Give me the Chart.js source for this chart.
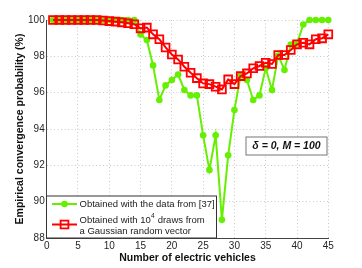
<!DOCTYPE html>
<html>
<head>
<meta charset="utf-8">
<script src="https://cdn.jsdelivr.net/npm/chart.js@4"></script>
<style>
  body { margin: 0; background: #fff; }
  canvas { display: block; }
</style>
</head>
<body>
<canvas id="myChart" width="362" height="268"></canvas>
<script>
// number of EVs on the x axis
const vehicles = [1,2,3,4,5,6,7,8,9,10,11,12,13,14,15,16,17,18,19,20,21,22,23,24,25,26,27,28,29,30,31,32,33,34,35,36,37,38,39,40,41,42,43,44,45];

// obtained with the data from [37]
const fromData = [100,100,100,100,100,100,100,100,100,100,100,100,100,100,
  99.2,98.9,97.5,95.6,96.4,96.7,97.0,96.15,95.85,95.85,93.65,91.75,93.65,89.0,92.55,95.05,
  96.95,96.7,95.6,95.85,97.35,96.15,98.05,97.25,98.65,98.7,99.75,100,100,100,100];

// obtained with 10^4 gaussian draws
const gaussianDraws = [100,100,100,100,100,100,100,100,99.97,99.94,99.91,99.87,99.82,99.77,
  99.54,99.58,99.21,98.94,98.49,98.1,97.83,97.43,97.1,96.8,96.51,96.47,96.33,96.18,96.73,96.47,
  96.91,97.06,97.34,97.47,97.65,97.58,98.07,98.07,98.35,98.66,98.75,98.66,98.94,98.99,99.21];

const xTicks = [0,5,10,15,20,25,30,35,40,45];
const yTicks = [88,90,92,94,96,98,100];

const green = "rgb(100,240,0)";
const red = "rgb(255,0,0)";

const ctx = document.getElementById("myChart");

const extras = {
  id: "extras",
  afterDraw(chart) {
    const c = chart.ctx;
    c.save();
    // legend box
    c.fillStyle = "#fff";
    c.fillRect(46.5, 196, 170, 42);
    c.strokeStyle = "#333";
    c.lineWidth = 1;
    c.strokeRect(46.5, 196, 170, 42);

    // green sample
    c.strokeStyle = green;
    c.lineWidth = 2;
    c.beginPath(); c.moveTo(52, 204); c.lineTo(77, 204); c.stroke();
    c.fillStyle = green;
    c.beginPath(); c.arc(64.5, 204, 3.3, 0, Math.PI * 2); c.fill();

    // red sample
    c.strokeStyle = red;
    c.beginPath(); c.moveTo(52, 224.5); c.lineTo(77, 224.5); c.stroke();
    c.lineWidth = 1.8;
    c.strokeRect(60.6, 220.6, 7.8, 7.8);

    c.fillStyle = "#222";
    c.textBaseline = "middle";
    c.textAlign = "left";
    c.font = "9.5px 'Liberation Sans', Arial, sans-serif";
    c.fillText("Obtained with the data from [37]", 79.5, 204.5);
    let t = "Obtained with 10";
    c.fillText(t, 79.5, 220);
    let w = c.measureText(t).width;
    c.font = "6.5px 'Liberation Sans', Arial, sans-serif";
    c.fillText("4", 79.5 + w + 0.3, 216);
    let w2 = c.measureText("4").width;
    c.font = "9.5px 'Liberation Sans', Arial, sans-serif";
    c.fillText(" draws from", 79.5 + w + w2 + 0.6, 220);
    c.fillText("a Gaussian random vector", 79.5, 231);

    // annotation box
    c.fillStyle = "#fff";
    c.fillRect(246, 137, 81, 18);
    c.strokeStyle = "#777";
    c.lineWidth = 1;
    c.strokeRect(246, 137, 81, 18);
    c.fillStyle = "#111";
    c.textAlign = "center";
    c.font = "italic bold 10.5px 'Liberation Sans', Arial, sans-serif";
    c.fillText("\u03b4 = 0, M = 100", 286.5, 146.5);
    c.restore();
  }
};

new Chart(ctx, {
  type: "line",
  data: {
    datasets: [
      {
        label: "Obtained with the data from [37]",
        data: vehicles.map((v, i) => ({x: v, y: fromData[i]})),
        borderColor: green,
        backgroundColor: green,
        borderWidth: 2,
        pointRadius: 3.3,
        pointBorderWidth: 0,
        pointBackgroundColor: green,
        clip: false,
        order: 2
      },
      {
        label: "Obtained with 10^4 draws from a Gaussian random vector",
        data: vehicles.map((v, i) => ({x: v, y: gaussianDraws[i]})),
        borderColor: red,
        backgroundColor: "rgba(0,0,0,0)",
        borderWidth: 2,
        pointStyle: "rect",
        pointRadius: 5.5,
        pointBorderWidth: 1.8,
        pointBorderColor: red,
        pointBackgroundColor: "rgba(0,0,0,0)",
        clip: false,
        order: 1
      }
    ]
  },
  options: {
    responsive: false,
    animation: false,
    layout: { padding: { top: 20, left: 4, right: 33.7, bottom: 0 } },
    plugins: { legend: { display: false }, tooltip: { enabled: false } },
    scales: {
      x: {
        type: "linear",
        min: 0,
        max: 45,
        afterBuildTicks: s => { s.ticks = xTicks.map(v => ({value: v})); },
        afterFit: s => { s.height = 30; },
        ticks: {
          autoSkip: false, maxRotation: 0, padding: 2,
          color: "#262626",
          font: { family: "'Liberation Sans', Arial, sans-serif", size: 10 }
        },
        grid: { color: "#c8c8c8", lineWidth: 1, drawTicks: false },
        border: { color: "#444", width: 1, dash: [1, 2.5] },
        title: {
          display: true,
          text: "Number of electric vehicles",
          color: "#111",
          padding: { top: 0, bottom: 4 },
          font: { family: "'Liberation Sans', Arial, sans-serif", size: 10.5, weight: "bold" }
        }
      },
      y: {
        min: 88,
        max: 100,
        afterBuildTicks: s => { s.ticks = yTicks.map(v => ({value: v})); },
        afterFit: s => { s.width = 42.7; },
        ticks: {
          padding: 2,
          color: "#262626",
          font: { family: "'Liberation Sans', Arial, sans-serif", size: 10 }
        },
        grid: { color: "#c8c8c8", lineWidth: 1, drawTicks: false },
        border: { color: "#444", width: 1, dash: [1, 2.5] },
        title: {
          display: true,
          text: "Empirical convergence probability (%)",
          color: "#111",
          padding: { top: 10, bottom: 0 },
          font: { family: "'Liberation Sans', Arial, sans-serif", size: 10.5, weight: "bold" }
        }
      }
    }
  },
  plugins: [extras]
});
</script>
</body>
</html>
